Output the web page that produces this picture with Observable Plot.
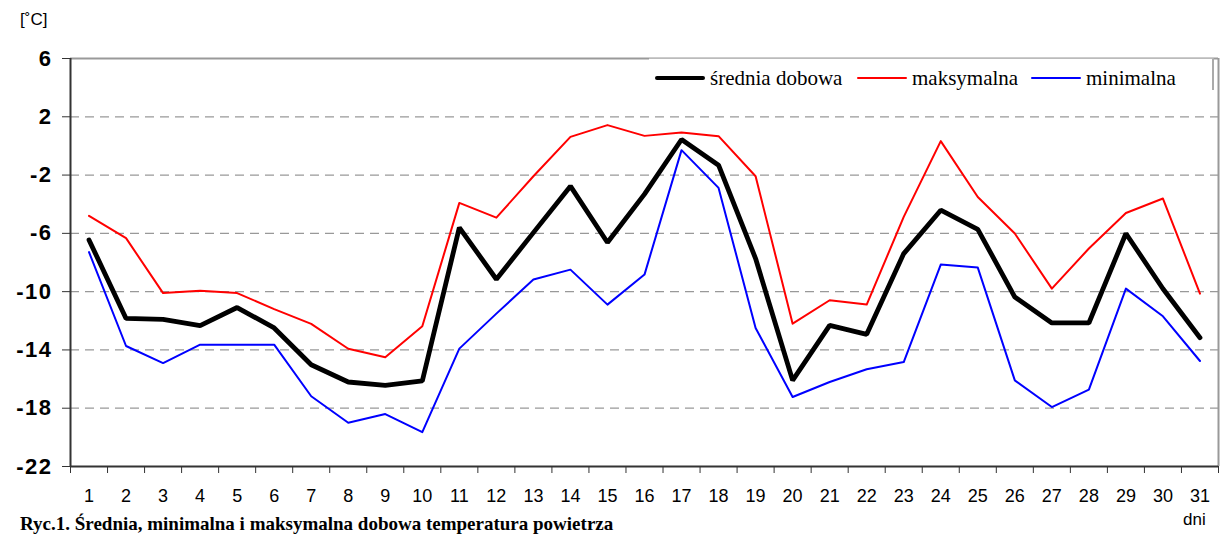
<!DOCTYPE html>
<html>
<head>
<meta charset="utf-8">
<script src="https://cdn.jsdelivr.net/npm/d3@7"></script>
<script src="https://cdn.jsdelivr.net/npm/@observablehq/plot@0.6"></script>
<style>
  html, body { margin: 0; padding: 0; background: #fff; }
  #wrap { position: relative; width: 1223px; height: 535px; overflow: hidden; }
  #chart { position: absolute; left: 0; top: 0; }
  .unit { position: absolute; left: 20px; top: 10px; font: 17px "Liberation Sans", Arial, sans-serif; color: #000; }
  .dni { position: absolute; left: 1183px; top: 510px; font: 17px "Liberation Sans", Arial, sans-serif; color: #000; }
  .caption { position: absolute; left: 20px; top: 513px; line-height: 21px; font: bold 19px "Liberation Serif", "Times New Roman", serif; color: #000; white-space: nowrap; }
  .legend { position: absolute; left: 649px; top: 58px; width: 565px; height: 32px; background: #fff; border-top: 1px solid #bbb; border-right: 2px solid #aaa; box-sizing: border-box;
            font: 21px "Liberation Serif", "Times New Roman", serif; color: #000; }
  .legend .item { position: absolute; top: 7px; height: 24px; display: flex; align-items: center; white-space: nowrap; }
  .legend .sw { display: inline-block; width: 50px; margin-right: 5px; border-radius: 3px; }
</style>
</head>
<body>
<div id="wrap">
  <div id="chart"></div>
  <div class="unit">[˚C]</div>
  <div class="legend" id="legend"></div>
  <div class="dni">dni</div>
  <div class="caption">Ryc.1. Średnia, minimalna i maksymalna dobowa temperatura powietrza</div>
</div>
<script>
const days = d3.range(1, 32);
const srednia = [-6.45, -11.84, -11.9, -12.33, -11.09, -12.49, -15.02, -16.2, -16.43, -16.13,
  -5.6, -9.15, -5.95, -2.76, -6.63, -3.31, 0.44, -1.32, -7.73, -16.09,
  -12.31, -12.93, -7.39, -4.41, -5.72, -10.37, -12.15, -12.15, -6.01, -9.8, -13.16];
const maksymalna = [-4.8, -6.33, -10.1, -9.94, -10.1, -11.2, -12.21, -13.92, -14.5, -12.38,
  -3.91, -4.92, -2.08, 0.62, 1.43, 0.69, 0.92, 0.67, -2.08, -12.2,
  -10.59, -10.89, -4.87, 0.33, -3.5, -6.01, -9.79, -7.04, -4.6, -3.61, -10.14];
const minimalna = [-7.29, -13.73, -14.9, -13.64, -13.64, -13.64, -17.18, -19.0, -18.4, -19.64,
  -13.91, -11.51, -9.17, -8.49, -10.89, -8.83, -0.29, -2.88, -12.49, -17.23,
  -16.2, -15.33, -14.83, -8.14, -8.35, -16.09, -17.92, -16.73, -9.79, -11.69, -14.76];
const seriesNames = ["średnia dobowa", "maksymalna", "minimalna"];
const seriesColors = ["#000000", "#ff0000", "#0000ff"];
const seriesWidths = [4.8, 2, 2];
const yTicks = [6, 2, -2, -6, -10, -14, -18, -22];
const gridTicks = [2, -2, -6, -10, -14, -18];

const rows = [];
[srednia, maksymalna, minimalna].forEach((vals, si) => {
  vals.forEach((v, i) => rows.push({series: seriesNames[si], day: days[i], value: v}));
});
const boundaries = d3.range(0, 32).map(i => i + 0.5);

const font = '"Liberation Sans", Arial, sans-serif';
const chart = Plot.plot({
  width: 1223,
  height: 535,
  marginLeft: 70,
  marginRight: 5,
  marginTop: 58,
  marginBottom: 69,
  style: {fontFamily: font, background: "transparent", overflow: "visible"},
  x: {type: "linear", domain: [0.5, 31.5]},
  y: {domain: [-22, 6]},
  marks: [
    Plot.ruleY(gridTicks, {stroke: "#999", strokeWidth: 1.3, strokeDasharray: "9,6"}),
    Plot.ruleY([6], {stroke: "#999", strokeWidth: 2}),
    Plot.ruleX([31.5], {stroke: "#999", strokeWidth: 2}),
    Plot.line(rows.filter(d => d.series === seriesNames[1]), {x: "day", y: "value", stroke: seriesColors[1], strokeWidth: seriesWidths[1]}),
    Plot.line(rows.filter(d => d.series === seriesNames[2]), {x: "day", y: "value", stroke: seriesColors[2], strokeWidth: seriesWidths[2]}),
    Plot.line(rows.filter(d => d.series === seriesNames[0]), {x: "day", y: "value", stroke: seriesColors[0], strokeWidth: seriesWidths[0], strokeLinejoin: "miter"}),
    Plot.ruleX([0.5], {stroke: "#333", strokeWidth: 2}),
    Plot.ruleY([-22], {stroke: "#333", strokeWidth: 2}),
    Plot.axisY({ticks: yTicks, tickSize: 8, tickPadding: 10, tickFormat: d => String(d), fontSize: 22, fontWeight: "bold", label: null, stroke: "#333", color: "#000"}),
    Plot.axisX({ticks: boundaries, tickSize: 7, tickFormat: () => "", label: null, stroke: "#333"}),
    Plot.axisX({ticks: days, tickSize: 0, tickPadding: 23, tickFormat: d => String(d), fontSize: 18, label: null, color: "#000"})
  ]
});
document.getElementById("chart").appendChild(chart);
const yLabelSet = new Set(yTicks.map(String));
d3.select(chart).selectAll("text")
  .filter(function() { return yLabelSet.has(this.textContent) && +this.getAttribute("x") !== 0 || (yLabelSet.has(this.textContent) && this.closest('[aria-label*="y-axis"]')); })
  .style("font-size", "22px").style("font-weight", "bold").style("letter-spacing", "1.5px");

// legend
const legendPos = [6, 208, 382];
const legend = document.getElementById("legend");
seriesNames.forEach((name, i) => {
  const item = document.createElement("div");
  item.className = "item";
  item.style.left = legendPos[i] + "px";
  const sw = document.createElement("span");
  sw.className = "sw";
  sw.style.height = seriesWidths[i] + "px";
  sw.style.background = seriesColors[i];
  item.appendChild(sw);
  item.appendChild(document.createTextNode(name));
  legend.appendChild(item);
});
</script>
</body>
</html>
